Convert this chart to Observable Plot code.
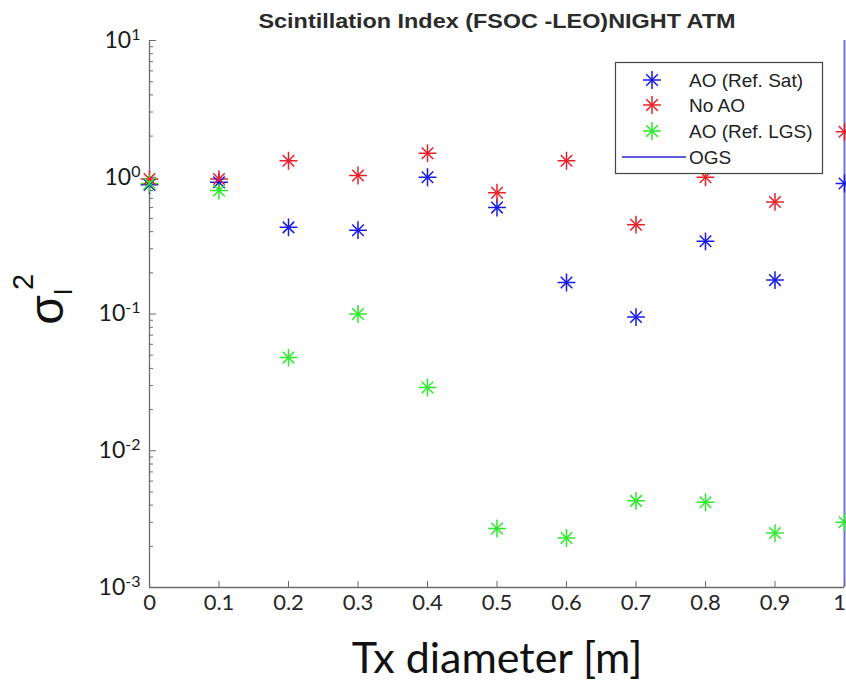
<!DOCTYPE html>
<html>
<head>
<meta charset="utf-8">
<script src="https://cdn.jsdelivr.net/npm/d3@7"></script>
<script src="https://cdn.jsdelivr.net/npm/@observablehq/plot@0.6"></script>
<style>
  html, body { margin: 0; padding: 0; background: #fff; }
</style>
</head>
<body>
<div id="chart"></div>
<script>
// ---- data ----
const diameters = [0, 0.1, 0.2, 0.3, 0.4, 0.5, 0.6, 0.7, 0.8, 0.9, 1.0];
const aoRefSat  = [0.88, 0.92, 0.43, 0.41, 1.0, 0.6, 0.17, 0.095, 0.34, 0.177, 0.9];
const noAO      = [0.97, 0.97, 1.32, 1.03, 1.5, 0.77, 1.32, 0.45, 1.0, 0.66, 2.15];
const aoRefLGS  = [0.9, 0.8, 0.048, 0.1, 0.029, 0.0027, 0.0023, 0.0043, 0.0042, 0.0025, 0.003];
const ogsPosition = [1];
const seriesNames = ["AO (Ref. Sat)", "No AO", "AO (Ref. LGS)", "OGS"];
const xTicks = [0, 0.1, 0.2, 0.3, 0.4, 0.5, 0.6, 0.7, 0.8, 0.9, 1];
const xTickLabels = ["0", "0.1", "0.2", "0.3", "0.4", "0.5", "0.6", "0.7", "0.8", "0.9", "1"];
const yTicks = [1e-3, 1e-2, 1e-1, 1, 10];
const yTickExponents = ["-3", "-2", "-1", "0", "1"];
const yMinorTicks = [2,3,4,5,6,7,8,9].flatMap(m => [1e-3, 1e-2, 1e-1, 1].map(d => m * d));
const titleText = "Scintillation Index (FSOC -LEO)NIGHT ATM";
const xLabelText = "Tx diameter [m]";

// ---- styles ----
const colors = ["#1a1ae6", "#e8202a", "#2de82d"];
const ogsColor = "#7272dc";
const axisColor = "#6b6b6b";

const seriesValues = [aoRefSat, noAO, aoRefLGS];
const rows = seriesValues.flatMap((vals, s) =>
  diameters.map((d, i) => ({ x: d, y: vals[i], s })));

const xLabelOf = d => xTickLabels[xTicks.findIndex(t => Math.abs(t - d) < 1e-9)];
const yLabelOf = d => "10^" + yTickExponents[yTicks.findIndex(t => Math.abs(Math.log10(t) - Math.log10(d)) < 1e-6)];

const plot = Plot.plot({
  width: 846,
  height: 686,
  marginLeft: 149,
  marginRight: 2,
  marginTop: 40,
  marginBottom: 99,
  style: { fontFamily: "Lato, 'Open Sans', sans-serif", background: "white", overflow: "visible" },
  x: { domain: [0, 1], label: null },
  y: { type: "log", domain: [1e-3, 10], label: null },
  marks: [
    Plot.ruleX(ogsPosition, { stroke: ogsColor, strokeWidth: 2 }),
    Plot.ruleY([1e-3], { stroke: axisColor, strokeWidth: 1.3 }),
    Plot.ruleX([0], { stroke: axisColor, strokeWidth: 1.3 }),
    Plot.axisX({ ticks: xTicks, tickSize: -6, text: null, stroke: axisColor, label: null }),
    Plot.axisX({ ticks: xTicks, tickSize: 0, tickPadding: 7, fontSize: 22,
      tickFormat: xLabelOf, fill: "#262626", label: null }),
    Plot.axisY({ ticks: yTicks, tickSize: -7, text: null, stroke: axisColor, label: null }),
    Plot.axisY({ ticks: yMinorTicks, tickSize: -4, text: null, stroke: axisColor, label: null }),
    Plot.axisY({ ticks: yTicks, tickSize: 0, tickPadding: 9, fontSize: 23,
      tickFormat: yLabelOf, fill: "#1a1a1a", label: null }),
    Plot.dot(rows, { x: "x", y: "y", stroke: d => colors[d.s], symbol: "plus", r: 5.8, strokeWidth: 1.5 }),
    Plot.dot(rows, { x: "x", y: "y", stroke: d => colors[d.s], symbol: "times", r: 5.3, strokeWidth: 1.5 })
  ]
});

document.getElementById("chart").appendChild(plot);
const svg = d3.select(plot);

// superscript exponents on y tick labels
svg.selectAll('g[aria-label="y-axis tick label"] text').each(function () {
  const t = d3.select(this);
  const txt = t.text();
  const [base, exp] = txt.split("^");
  t.text(null);
  t.append("tspan").text(base);
  t.append("tspan").attr("dy", "-0.5em").attr("font-size", 16).text(exp);
});

// keep the last x tick label inside the picture
const xl = svg.selectAll('g[aria-label="x-axis tick label"] text').nodes();
if (xl.length) d3.select(xl[xl.length - 1]).attr("dx", -5);

// title
svg.append("text")
  .attr("x", 497).attr("y", 28)
  .attr("text-anchor", "middle")
  .attr("font-family", "'Liberation Sans', Arial, sans-serif")
  .attr("font-weight", "bold")
  .attr("font-size", 21)
  .attr("textLength", 477)
  .attr("lengthAdjust", "spacingAndGlyphs")
  .attr("fill", "#2b2b2b")
  .text(titleText);

// x label
svg.append("text")
  .attr("x", 497).attr("y", 673)
  .attr("text-anchor", "middle")
  .attr("font-family", "Lato, 'Open Sans', sans-serif")
  .attr("font-size", 43)
  .attr("fill", "#111")
  .text(xLabelText);

// y label: sigma_I^2
const ylab = svg.append("g").attr("font-family", "'Liberation Sans', Arial, sans-serif").attr("fill", "#111");
ylab.append("text").attr("transform", "translate(63,310) rotate(-90)")
  .attr("text-anchor", "middle").attr("font-size", 48).text("σ");
ylab.append("text").attr("transform", "translate(72,292) rotate(-90)")
  .attr("text-anchor", "middle").attr("font-size", 26).text("I");
ylab.append("text").attr("transform", "translate(33,282) rotate(-90)")
  .attr("text-anchor", "middle").attr("font-size", 29).text("2");

// legend
const lg = svg.append("g").attr("font-family", "'Liberation Sans', Arial, sans-serif").attr("text-anchor", "start");
lg.append("rect").attr("x", 615.5).attr("y", 62.5).attr("width", 207).attr("height", 111)
  .attr("fill", "white").attr("stroke", "#444").attr("stroke-width", 1.2);
const rowY = [80, 105, 131, 157];
const plusPath = d3.symbol(d3.symbolPlus, Math.PI * 5.8 * 5.8)();
const timesPath = d3.symbol(d3.symbolTimes, Math.PI * 5.3 * 5.3)();
seriesNames.forEach((name, i) => {
  if (i < 3) {
    lg.append("path").attr("d", plusPath).attr("transform", `translate(652,${rowY[i]})`)
      .attr("fill", "none").attr("stroke", colors[i]).attr("stroke-width", 1.5);
    lg.append("path").attr("d", timesPath).attr("transform", `translate(652,${rowY[i]})`)
      .attr("fill", "none").attr("stroke", colors[i]).attr("stroke-width", 1.5);
  } else {
    lg.append("line").attr("x1", 622).attr("x2", 686).attr("y1", rowY[i]).attr("y2", rowY[i])
      .attr("stroke", "#2a2ad0").attr("stroke-width", 1.5);
  }
  lg.append("text").attr("x", 689).attr("y", rowY[i]).attr("dy", "0.35em")
    .attr("text-anchor", "start")
    .attr("font-size", 19).attr("fill", "#222").text(name);
});
</script>
</body>
</html>
